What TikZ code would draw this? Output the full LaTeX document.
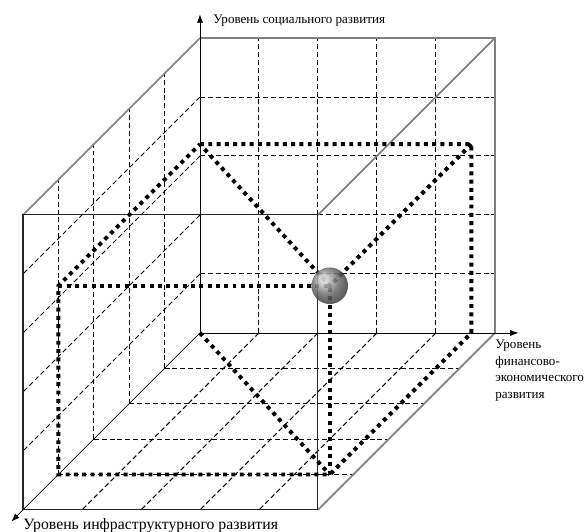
\documentclass[tikz,border=0pt]{standalone}
\usepackage{fontspec}
\setmainfont{Liberation Serif}
\usetikzlibrary{arrows.meta}

\begin{document}
\begin{tikzpicture}[>={Latex[length=4pt,width=3pt]},
  x=1cm,y=1cm,z={(-0.6cm,-0.6cm)},
  gridline/.style={line width=0.45pt,dash pattern=on 2.4pt off 1.4pt},
  backedge/.style={line width=0.8pt,gray},
  frontedge/.style={line width=0.5pt,black!85},
  dotbox/.style={line width=1.9pt,dash pattern=on 1.9pt off 2.1pt}]

% 邊界
\useasboundingbox (-3.39,-3.373) rectangle (6.51,5.644);

% 網格
\foreach \i in {1,...,4} {
  \draw[gridline] (\i,0,0) -- (\i,5,0);
  \draw[gridline] (0,\i,0) -- (5,\i,0);
  \draw[gridline] (0,0,\i) -- (0,5,\i);
  \draw[gridline] (0,\i,0) -- (0,\i,5);
  \draw[gridline] (0,0,\i) -- (5,0,\i);
  \draw[gridline] (\i,0,0) -- (\i,0,5);
}

% 立方體
\draw[backedge] (0,5,0) -- (5,5,0) -- (5,0,0);
\draw[backedge] (0,5,0) -- (0,5,5);
\draw[backedge] (5,5,0) -- (5,5,5);
\draw[backedge] (5,0,0) -- (5,0,5);
\draw[frontedge] (0,0,5) -- (5,0,5) -- (5,5,5) -- (0,5,5) -- cycle;

% 軸
\coordinate (O) at (0,0,0);
\coordinate (soc) at (0,5.4,0);
\coordinate (fin) at (5.4,0,0);
\coordinate (inf) at (0,0,5.33);
\draw[->] (O) -- (soc);
\draw[->] (O) -- (fin);
\draw[->] (O) -- (inf);

\node[anchor=base west,inner sep=0,font=\fontsize{6.3}{7.7}\selectfont] (socLbl)
   at (0.22,5.25) {Уровень социального развития};
\node[anchor=north west,inner sep=0,align=left,font=\fontsize{6.3}{7.9}\selectfont] (finLbl)
   at (5.0,-0.12) {Уровень\\финансово-\\экономического\\развития};
\node[anchor=base west,inner sep=0,font=\fontsize{7.6}{9}\selectfont] (infLbl)
   at (-3.0,-3.33) {Уровень инфраструктурного развития};

% 點線框
\def\bx{4.6}
\def\by{3.2}
\def\bz{4}
\coordinate (A) at (0,\by,0);
\coordinate (B) at (\bx,\by,0);
\coordinate (C) at (\bx,0,0);
\coordinate (D) at (0,\by,\bz);
\coordinate (E) at (\bx,\by,\bz);
\coordinate (F) at (\bx,0,\bz);
\coordinate (G) at (0,0,\bz);
\draw[dotbox] (A) -- (B) -- (C) -- (F) -- (G) -- (D) -- (A);
\draw[dotbox] (D) -- (E) -- (F);
\draw[dotbox] (B) -- (E) -- (A);
\draw[dotbox] (O) -- (F);

% 球
\node[circle,minimum size=0.62cm,inner sep=0,shading=ball,ball color=gray!80,
   opacity=0.85] (ball) at (E) {};

\end{tikzpicture}
\end{document}
